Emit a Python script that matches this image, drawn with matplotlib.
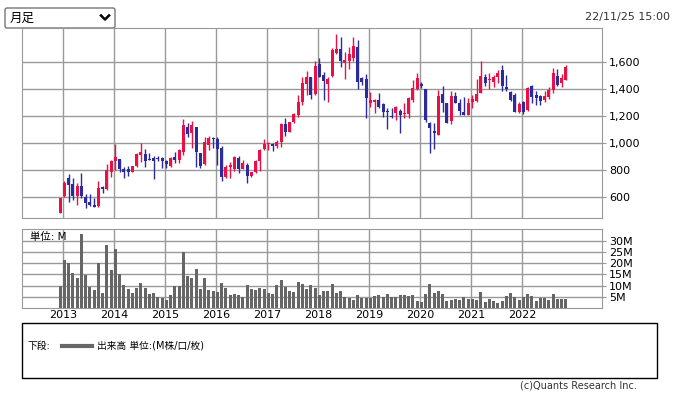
import numpy as np
import matplotlib.pyplot as plt
from matplotlib.patches import Rectangle, FancyBboxPatch

plt.rcParams['font.family'] = ['DejaVu Sans', 'Noto Sans CJK JP']

# -------------------------------------------------
# Monthly data, Dec 2012 .. Nov 2022
# -------------------------------------------------
opens = [
    484,
    607, 740, 696, 610, 684, 602, 563, 541, 536, 676, 659, 787,
    868, 878, 804, 804, 787, 832, 910, 918, 881, 886, 888, 886,
    868, 829, 898, 873, 935, 1117, 1075, 1117, 928, 844, 984, 1038,
    1029, 960, 750, 822, 807, 886, 807, 836, 758, 782, 866, 957,
    989, 989, 979, 1009, 1139, 1083, 1152, 1206, 1304, 1435, 1484, 1361,
    1583, 1501, 1435, 1494, 1662, 1694, 1593, 1605, 1630, 1706, 1477, 1472,
    1292, 1304, 1317, 1287, 1238, 1201, 1223, 1235, 1211, 1213, 1317, 1396,
    1435, 1398, 1144, 1088, 1058, 1361, 1292, 1164, 1346, 1292, 1226, 1206,
    1299, 1312, 1371, 1484, 1465, 1452, 1484, 1538, 1410, 1376, 1354, 1230,
    1304, 1243, 1420, 1354, 1346, 1317, 1341, 1391, 1494, 1440, 1464,
]
highs = [
    595,
    716, 770, 740, 701, 775, 622, 622, 595, 716, 684, 844, 873,
    992, 878, 824, 832, 832, 928, 997, 955, 928, 903, 900, 898,
    873, 898, 935, 952, 1179, 1144, 1162, 1117, 928, 1041, 1048, 1043,
    1041, 977, 834, 856, 903, 903, 873, 849, 787, 873, 952, 1031,
    1009, 997, 1021, 1144, 1181, 1157, 1218, 1354, 1489, 1531, 1489, 1607,
    1625, 1526, 1489, 1699, 1804, 1780, 1674, 1706, 1780, 1760, 1489, 1509,
    1378, 1324, 1371, 1297, 1255, 1260, 1272, 1248, 1292, 1341, 1464, 1519,
    1452, 1398, 1157, 1149, 1390, 1420, 1292, 1383, 1378, 1322, 1341, 1334,
    1354, 1469, 1605, 1509, 1514, 1501, 1538, 1575, 1501, 1383, 1371, 1304,
    1309, 1415, 1425, 1386, 1354, 1386, 1415, 1556, 1546, 1506, 1575,
]
lows = [
    479,
    600, 566, 578, 541, 590, 516, 533, 524, 524, 627, 652, 745,
    800, 787, 738, 758, 782, 825, 856, 819, 873, 733, 868, 812,
    812, 824, 854, 849, 910, 1046, 965, 824, 817, 836, 947, 960,
    836, 721, 738, 738, 790, 775, 807, 706, 750, 775, 795, 947,
    947, 942, 960, 972, 1053, 1078, 1144, 1194, 1280, 1351, 1327, 1351,
    1484, 1317, 1304, 1489, 1657, 1563, 1472, 1546, 1607, 1398, 1428, 1186,
    1267, 1223, 1255, 1194, 1105, 1181, 1169, 1075, 1181, 1181, 1304, 1391,
    1403, 1157, 923, 957, 1058, 1230, 1149, 1139, 1292, 1206, 1206, 1206,
    1255, 1304, 1371, 1420, 1396, 1410, 1440, 1386, 1386, 1312, 1230, 1218,
    1211, 1238, 1297, 1280, 1280, 1299, 1322, 1371, 1420, 1415, 1464,
]
closes = [
    590,
    706, 691, 610, 684, 610, 553, 538, 529, 664, 662, 800, 864,
    898, 804, 787, 787, 829, 918, 933, 868, 873, 868, 878, 868,
    844, 888, 873, 947, 1130, 1068, 1130, 935, 832, 1004, 1036, 1026,
    952, 750, 819, 836, 896, 807, 849, 758, 782, 866, 947, 992,
    1001, 977, 1009, 1139, 1083, 1152, 1213, 1302, 1445, 1489, 1351, 1568,
    1489, 1460, 1472, 1686, 1694, 1607, 1612, 1657, 1716, 1452, 1452, 1334,
    1317, 1317, 1267, 1230, 1230, 1194, 1262, 1206, 1218, 1329, 1403, 1477,
    1423, 1169, 1112, 1070, 1346, 1292, 1149, 1346, 1292, 1238, 1206, 1292,
    1324, 1361, 1494, 1445, 1472, 1484, 1514, 1420, 1396, 1317, 1230, 1285,
    1230, 1408, 1341, 1334, 1309, 1346, 1391, 1519, 1428, 1477, 1563,
]
# volume, millions
volumes = [
    9.8,
    21.6, 20.2, 15.8, 13.5, 32.9, 14.9, 9.5, 7.9, 20.2, 6.8, 28.0, 17.1,
    26.5, 15.3, 10.3, 8.6, 6.8, 9.1, 11.3, 9.1, 6.4, 6.8, 5.1, 4.6,
    3.4, 6.0, 10.0, 10.0, 25.1, 14.4, 13.5, 17.6, 8.6, 13.5, 8.2, 7.7,
    7.3, 11.3, 9.1, 6.0, 6.4, 6.0, 5.1, 10.4, 8.6, 8.2, 9.1, 8.6,
    6.8, 6.4, 10.4, 12.6, 9.5, 7.7, 7.3, 11.8, 10.9, 8.6, 10.4, 9.1,
    6.0, 7.7, 7.7, 10.9, 6.8, 7.7, 5.1, 4.6, 3.7, 6.0, 4.6, 4.6,
    4.6, 5.5, 6.0, 5.1, 6.4, 5.1, 5.1, 6.0, 6.0, 5.5, 6.0, 3.3,
    2.8, 6.4, 10.9, 6.8, 7.7, 6.4, 3.3, 3.7, 4.2, 3.7, 5.1, 4.2,
    4.2, 3.7, 7.3, 2.8, 4.2, 3.3, 2.4, 3.3, 5.5, 6.8, 5.1, 3.7,
    5.1, 6.4, 5.5, 3.3, 4.6, 4.6, 3.7, 6.4, 4.2, 4.2, 4.2,
]
years = ['2013', '2014', '2015', '2016', '2017', '2018', '2019', '2020', '2021', '2022']
price_ticks = [600, 800, 1000, 1200, 1400, 1600]
volume_ticks = [5, 10, 15, 20, 25, 30]

UP = '#ea1045'
DOWN = '#2b2b9b'
GRID = '#999999'
VOL = '#666666'

# -------------------------------------------------
# Layout helpers (pixel boxes)
# -------------------------------------------------
W, H = 677, 397


def box(l, t, r, b):
    return [l / W, 1 - b / H, (r - l) / W, (b - t) / H]


fig = plt.figure(figsize=(W / 100, H / 100), dpi=100)

o = np.array(opens, dtype=float)
h = np.array(highs, dtype=float)
l = np.array(lows, dtype=float)
c = np.array(closes, dtype=float)
v = np.array(volumes)
x = np.arange(len(c)) - 1          # Jan 2013 -> 0
colors = np.where(c >= o, UP, DOWN)
year_pos = [12 * k - 0.25 for k in range(len(years))]
xlim = (-9.97, 126.5)


def style(ax):
    for s in ax.spines.values():
        s.set_color(GRID)
    ax.set_xticks(year_pos)
    ax.grid(color=GRID, lw=1)
    ax.set_axisbelow(True)
    ax.yaxis.tick_right()
    ax.tick_params(axis='y', length=3, color=GRID, labelsize=8, pad=2)
    ax.tick_params(axis='x', length=0)


# -------------------------------------------------
# Price panel
# -------------------------------------------------
ax = fig.add_axes(box(22, 28, 602, 218))
ax.vlines(x, l, h, colors=colors, lw=1)
body = np.maximum(np.abs(c - o), 4)
ax.bar(x, body, bottom=np.minimum(o, c), width=0.7, color=colors, linewidth=0)
ax.set_xlim(*xlim)
ax.set_ylim(445, 1849)
ax.set_yticks(price_ticks)
ax.set_yticklabels([f"{p:,}" for p in price_ticks])
style(ax)
ax.set_xticklabels([])

# -------------------------------------------------
# Volume panel
# -------------------------------------------------
axv = fig.add_axes(box(22, 229, 602, 308))
axv.bar(x, v, width=0.7, color=VOL, linewidth=0)
axv.set_xlim(*xlim)
axv.set_ylim(0, 35.3)
axv.set_yticks(volume_ticks)
axv.set_yticklabels([f"{t}M" for t in volume_ticks])
style(axv)
axv.set_xticklabels(years, fontsize=8)
axv.tick_params(axis='x', pad=1.5)
axv.text(0.013, 0.9, '単位: M', transform=axv.transAxes, fontsize=7.5,
         va='center', ha='left')

# -------------------------------------------------
# Decorations in pixel coords
# -------------------------------------------------
ov = fig.add_axes([0, 0, 1, 1], zorder=-1)
ov.set_xlim(0, W)
ov.set_ylim(H, 0)
ov.axis('off')

ov.add_patch(FancyBboxPatch((5, 8), 110, 20, boxstyle='round,pad=0,rounding_size=2',
                            fc='white', ec='#767676', lw=1))
ov.text(10, 18.5, '月足', fontsize=9, va='center', ha='left')
ov.plot([101, 105, 109], [15.5, 19.5, 15.5], color='black', lw=1.8)
ov.text(670, 17, '22/11/25 15:00', fontsize=8, va='center', ha='right', color='#333333')

ov.add_patch(Rectangle((22, 323), 635, 55, fc='none', ec='black', lw=1))
ov.text(28, 346, '下段:', fontsize=7, va='center', ha='left')
ov.plot([62, 92], [346, 346], color=VOL, lw=3)
ov.text(97, 346, '出来高 単位:(M株/口/枚)', fontsize=7, va='center', ha='left')
ov.text(637, 386, '(c)Quants Research Inc.', fontsize=7, va='center', ha='right',
        color='#333333')

plt.savefig('out.png', dpi=100)
